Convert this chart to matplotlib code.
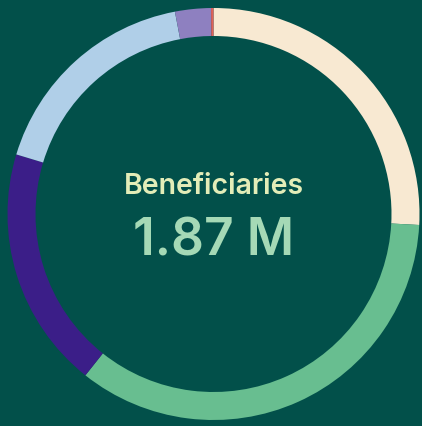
import matplotlib
matplotlib.use('Agg')
import matplotlib.pyplot as plt

# segment shares (percent), clockwise from the top
labels = ['A', 'B', 'C', 'D', 'E', 'F']
shares = [25.85, 34.83, 18.99, 17.33, 2.81, 0.19]
colors = ['#F8E9D2', '#68BE90', '#3B1E88', '#B0CFE8', '#8E80C0', '#E0615B']
title = 'Beneficiaries'
total = '1.87 M'

bg = '#02504A'
fig = plt.figure(figsize=(4.22, 4.26), dpi=100, facecolor=bg)
ax = fig.add_axes([0, 0, 1, 1])
ax.set_facecolor(bg)

ax.pie(shares, colors=colors, startangle=90, counterclock=False,
       center=(213.5, 212), radius=206,
       wedgeprops=dict(width=28, linewidth=0))

ax.set_xlim(0, 422)
ax.set_ylim(0, 426)
ax.set_aspect('equal')
ax.axis('off')

ax.text(214, 426 - 187, title, ha='center', va='center',
        fontsize=20.5, color='#E3EDB8', family='Inter', fontweight='semibold')
ax.text(214, 426 - 242, total, ha='center', va='center',
        fontsize=37, color='#A5D9B6', family='Inter', fontweight='semibold')

fig.savefig('out.png', dpi=100, facecolor=bg)
